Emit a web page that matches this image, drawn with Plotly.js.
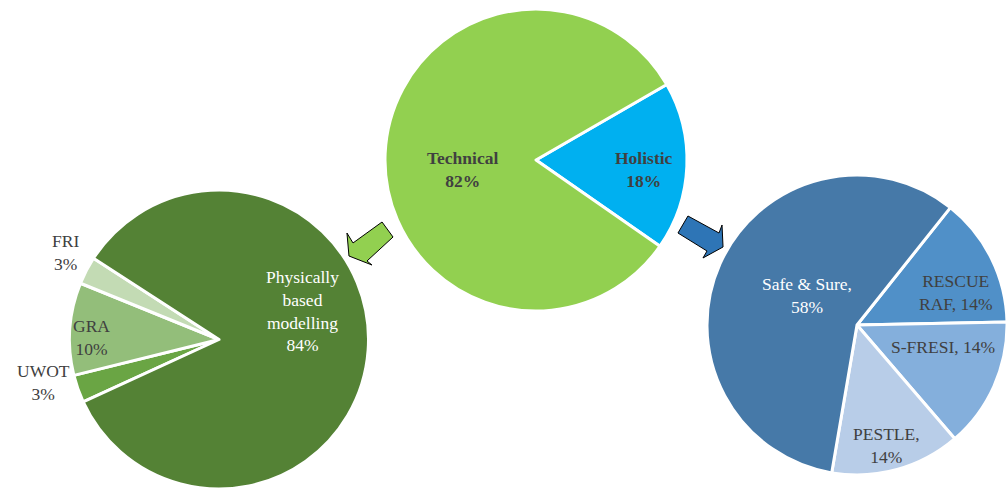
<!DOCTYPE html>
<html>
<head>
<meta charset="utf-8">
<script src="https://cdn.plot.ly/plotly-3.0.1.min.js"></script>
<style>
  html, body { margin: 0; padding: 0; background: #fff; }
  #chart { width: 1008px; height: 489px; }
</style>
</head>
<body>
<div id="chart"></div>
<script>
// top pie: kind of approach
const topLabels = ['Holistic', 'Technical'];
const topValues = [18, 82];
const topColors = ['#00B0F0', '#92D050'];

// left pie: technical approaches
const techLabels = ['UWOT', 'GRA', 'FRI', 'Physically based modelling'];
const techValues = [3, 10, 3, 84];
const techColors = ['#6AA544', '#93BE7A', '#C3DBB4', '#548235'];

// right pie: holistic approaches
const holLabels = ['RESCUE RAF', 'S-FRESI', 'PESTLE', 'Safe & Sure'];
const holValues = [14, 14, 14, 58];
const holColors = ['#5090C8', '#84AFDC', '#B8CDE8', '#4679A8'];

const W = 1008, H = 489;
const FONT = '"Liberation Serif", "Times New Roman", serif';

function dom(x0, x1, y0, y1) {
    // pixel box -> paper domain
    return { x: [x0 / W, x1 / W], y: [Math.max(0, 1 - y1 / H), Math.min(1, 1 - y0 / H)] };
}

function pie(labels, values, colors, domain, rotation) {
    return {
        type: 'pie', labels, values, sort: false, direction: 'clockwise',
        rotation, domain, textinfo: 'none', hoverinfo: 'label+percent',
        marker: { colors, line: { color: '#ffffff', width: 3 } }
    };
}

const data = [
    pie(topLabels, topValues, topColors, dom(385, 687, 9, 311), 60),
    pie(techLabels, techValues, techColors, dom(69, 369, 190, 490), -114.7),
    pie(holLabels, holValues, holColors, dom(707, 1007, 175, 475), 38.5)
];

function pct(values, i) {
    const total = values.reduce((a, b) => a + b, 0);
    return Math.round(values[i] / total * 100) + '%';
}

// label text + where it sits (pixels) + colour
const labelSpecs = [
    { text: '<b>' + topLabels[1] + '<br>' + pct(topValues, 1) + '</b>', at: [462, 170], color: '#404040' },
    { text: '<b>' + topLabels[0] + '<br>' + pct(topValues, 0) + '</b>', at: [644, 170], color: '#404040' },
    { text: 'Physically<br>based<br>modelling<br>' + pct(techValues, 3), at: [302, 311], color: '#ffffff' },
    { text: techLabels[1] + '<br>' + pct(techValues, 1), at: [91, 337], color: '#404040' },
    { text: techLabels[2] + '<br>' + pct(techValues, 2), at: [65, 252], color: '#404040' },
    { text: techLabels[0] + '<br>' + pct(techValues, 0), at: [43, 382], color: '#404040' },
    { text: holLabels[3] + ',<br>' + pct(holValues, 3), at: [807, 295], color: '#ffffff' },
    { text: 'RESCUE<br>RAF, ' + pct(holValues, 0), at: [955, 292], color: '#404040' },
    { text: holLabels[1] + ', ' + pct(holValues, 1), at: [943, 347], color: '#404040' },
    { text: holLabels[2] + ',<br>' + pct(holValues, 2), at: [886, 445], color: '#404040' }
];

const annotations = labelSpecs.map(s => ({
    xref: 'paper', yref: 'paper', x: s.at[0] / W, y: 1 - s.at[1] / H,
    xanchor: 'center', yanchor: 'middle', showarrow: false, text: s.text,
    font: { family: FONT, size: 17.5, color: s.color }
}));

function poly(pts) {
    return 'M ' + pts.map(p => (p[0] / W).toFixed(4) + ',' + (1 - p[1] / H).toFixed(4)).join(' L ') + ' Z';
}

const shapes = [
    {
        type: 'path', xref: 'paper', yref: 'paper',
        path: poly([[349, 256], [347, 233], [353, 243], [382, 222], [393, 237], [367, 261], [372, 265]]),
        fillcolor: '#92D050', line: { color: '#000000', width: 1 }
    },
    {
        type: 'path', xref: 'paper', yref: 'paper',
        path: poly([[688, 216], [719, 233], [722, 225], [723, 247], [703, 258], [707, 251], [678, 233]]),
        fillcolor: '#2E75B6', line: { color: '#000000', width: 1 }
    }
];

const layout = {
    width: W, height: H,
    margin: { l: 0, r: 0, t: 0, b: 0 },
    paper_bgcolor: '#ffffff',
    showlegend: false,
    annotations, shapes
};

Plotly.newPlot('chart', data, layout, { displayModeBar: false, staticPlot: true });
</script>
</body>
</html>
